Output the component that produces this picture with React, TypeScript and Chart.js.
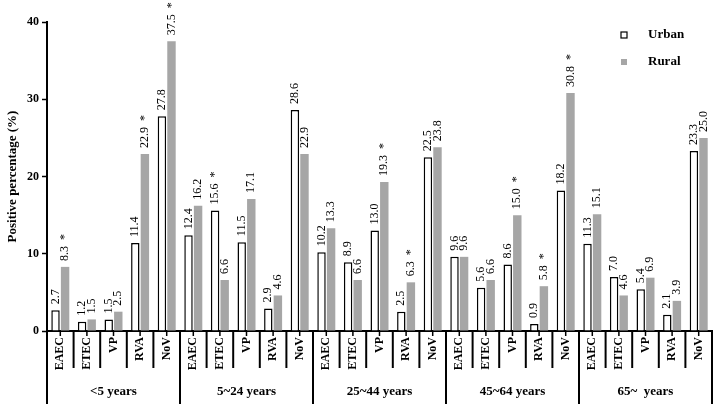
import React, { useEffect, useRef } from "react";
import { Chart, registerables } from "chart.js";

Chart.register(...registerables);

const groups = ["<5 years", "5~24 years", "25~44 years", "45~64 years", "65~  years"];
const pathogens = ["EAEC", "ETEC", "VP", "RVA", "NoV"];

const urbanValues = [
  2.7, 1.2, 1.5, 11.4, 27.8,
  12.4, 15.6, 11.5, 2.9, 28.6,
  10.2, 8.9, 13.0, 2.5, 22.5,
  9.6, 5.6, 8.6, 0.9, 18.2,
  11.3, 7.0, 5.4, 2.1, 23.3,
];
const ruralValues = [
  8.3, 1.5, 2.5, 22.9, 37.5,
  16.2, 6.6, 17.1, 4.6, 22.9,
  13.3, 6.6, 19.3, 6.3, 23.8,
  9.6, 6.6, 15.0, 5.8, 30.8,
  15.1, 4.6, 6.9, 3.9, 25.0,
];
const urbanSig = [
  0, 0, 0, 0, 0,
  0, 1, 0, 0, 0,
  0, 0, 0, 0, 0,
  0, 0, 0, 0, 0,
  0, 0, 0, 0, 0,
];
const ruralSig = [
  1, 0, 0, 1, 1,
  0, 0, 0, 0, 0,
  0, 0, 1, 1, 0,
  0, 0, 1, 1, 1,
  0, 0, 0, 0, 0,
];
const yTicks = [0, 10, 20, 30, 40];

const SERIF = '"Liberation Serif", "Times New Roman", serif';
const GRAY = "#a6a6a6";

const categoryLabels = groups.flatMap(() => pathogens);

const overlayPlugin = {
  id: "overlay",
  afterDatasetsDraw(chart: any) {
    const ctx = chart.ctx;
    const xs = chart.scales.x;
    const area = chart.chartArea;
    const n = categoryLabels.length;
    const w = (area.right - area.left) / n;
    const bottom = area.bottom;

    // value labels
    const sigs = [urbanSig, ruralSig];
    chart.data.datasets.forEach((ds: any, di: number) => {
      const meta = chart.getDatasetMeta(di);
      meta.data.forEach((bar: any, i: number) => {
        const v = ds.data[i];
        const txt = v.toFixed(1) + (sigs[di][i] ? "  *" : "");
        ctx.save();
        ctx.translate(bar.x, bar.y - 6);
        ctx.rotate(-Math.PI / 2);
        ctx.font = `12px ${SERIF}`;
        ctx.fillStyle = "#000";
        ctx.textAlign = "left";
        ctx.textBaseline = "middle";
        ctx.fillText(txt, 0, 0);
        ctx.restore();
      });
    });

    ctx.save();
    ctx.strokeStyle = "#000";
    ctx.fillStyle = "#000";
    // category ticks & labels
    for (let i = 0; i < n; i++) {
      const cx = xs.getPixelForValue(i);
      ctx.lineWidth = 1.5;
      ctx.beginPath();
      ctx.moveTo(cx, bottom);
      ctx.lineTo(cx, bottom + 5);
      ctx.stroke();
      ctx.save();
      ctx.translate(cx, bottom + 6);
      ctx.rotate(-Math.PI / 2);
      ctx.font = `bold 12px ${SERIF}`;
      ctx.textAlign = "right";
      ctx.textBaseline = "middle";
      ctx.fillText(categoryLabels[i], 0, 0);
      ctx.restore();
    }
    // separators
    for (let i = 0; i <= n; i++) {
      const bx = area.left + i * w;
      const isGroup = i % pathogens.length === 0;
      ctx.lineWidth = 2;
      ctx.beginPath();
      ctx.moveTo(bx, bottom);
      ctx.lineTo(bx, bottom + (isGroup ? 73 : 37));
      ctx.stroke();
    }
    // group labels
    ctx.font = `bold 13px ${SERIF}`;
    ctx.textAlign = "center";
    ctx.textBaseline = "middle";
    groups.forEach((g, gi) => {
      const gx = area.left + (gi + 0.5) * w * pathogens.length;
      ctx.fillText(g, gx, bottom + 61);
    });

    // legend
    const lx = 621;
    const items = [
      { label: chart.data.datasets[0].label, fill: "#fff", stroke: true, y: 35 },
      { label: chart.data.datasets[1].label, fill: GRAY, stroke: false, y: 62 },
    ];
    items.forEach((it) => {
      ctx.fillStyle = it.fill;
      ctx.fillRect(lx, it.y - 3, 6, 6);
      if (it.stroke) {
        ctx.lineWidth = 1.2;
        ctx.strokeStyle = "#000";
        ctx.strokeRect(lx, it.y - 3, 6, 6);
      }
      ctx.fillStyle = "#000";
      ctx.font = `bold 13px ${SERIF}`;
      ctx.textAlign = "left";
      ctx.textBaseline = "middle";
      ctx.fillText(it.label, 648, it.y);
    });
    ctx.restore();
  },
};

export default function App() {
  const ref = useRef<HTMLCanvasElement | null>(null);
  useEffect(() => {
    document.body.style.margin = "0";
    const canvas = ref.current;
    if (!canvas) return;
    const chart = new Chart(canvas, {
      type: "bar",
      data: {
        labels: categoryLabels,
        datasets: [
          {
            label: "Urban",
            data: urbanValues,
            backgroundColor: "#ffffff",
            borderColor: "#000000",
            borderWidth: 1.5,
            categoryPercentage: 0.72,
            barPercentage: 0.88,
          },
          {
            label: "Rural",
            data: ruralValues,
            backgroundColor: GRAY,
            borderWidth: 0,
            categoryPercentage: 0.72,
            barPercentage: 0.88,
          },
        ],
      },
      options: {
        responsive: false,
        animation: false,
        layout: { padding: { top: 22, right: 5, left: 0, bottom: 0 } },
        plugins: {
          legend: { display: false },
          tooltip: { enabled: false },
        },
        scales: {
          x: {
            type: "category",
            offset: true,
            grid: { display: false, drawTicks: false },
            ticks: { display: false },
            border: { display: true, color: "#000", width: 2 },
            afterFit: (s: any) => {
              s.height = 75;
            },
          },
          y: {
            min: 0,
            max: 40,
            afterBuildTicks: (s: any) => {
              s.ticks = yTicks.map((v) => ({ value: v }));
            },
            ticks: {
              color: "#000",
              font: { family: SERIF, size: 12, weight: "bold" },
              padding: 3,
            },
            grid: {
              drawOnChartArea: false,
              drawTicks: true,
              tickLength: 5,
              tickColor: "#000",
              tickWidth: 1.5,
            },
            border: { display: true, color: "#000", width: 2 },
            title: {
              display: true,
              text: "Positive percentage (%)",
              color: "#000",
              font: { family: SERIF, size: 13, weight: "bold" },
              padding: { top: 5, bottom: 0 },
            },
            afterFit: (s: any) => {
              s.width = 47;
            },
          },
        },
      },
      plugins: [overlayPlugin],
    } as any);
    return () => chart.destroy();
  }, []);
  return <canvas ref={ref} width={717} height={406} style={{ display: "block" }} />;
}
